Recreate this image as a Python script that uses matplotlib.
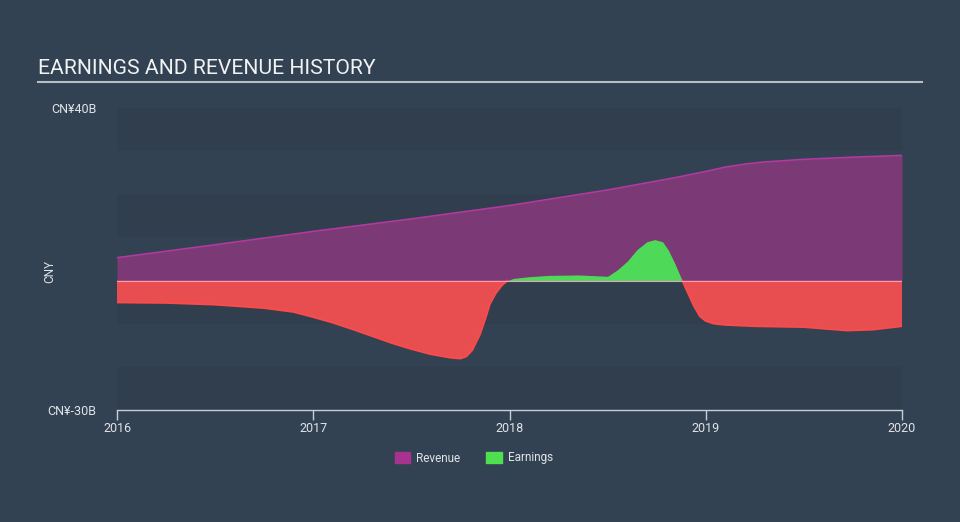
import numpy as np
import matplotlib.pyplot as plt
from matplotlib.patches import Patch

plt.rcParams['font.family'] = ['Roboto', 'DejaVu Sans']

# values in CN¥ billions, time as decimal years
rev_t = [2016.0, 2016.5, 2017.0, 2017.5, 2018.0, 2018.5, 2018.85, 2019.0,
         2019.1, 2019.2, 2019.3, 2019.4, 2019.5, 2019.75, 2020.0]
rev_v = [5.3, 8.3, 11.4, 14.3, 17.4, 21.0, 23.9, 25.3,
         26.3, 27.0, 27.5, 27.8, 28.1, 28.6, 29.0]

earn_t = [2016.0, 2016.25, 2016.5, 2016.75, 2016.9, 2017.0, 2017.1, 2017.2,
          2017.3, 2017.4, 2017.5, 2017.6, 2017.7, 2017.75, 2017.78, 2017.81,
          2017.85, 2017.88, 2017.9, 2017.93, 2017.96, 2017.99, 2018.02, 2018.1,
          2018.2, 2018.35, 2018.5, 2018.55, 2018.6, 2018.65, 2018.7, 2018.74,
          2018.78, 2018.81, 2018.84, 2018.88, 2018.91, 2018.94, 2018.97, 2019.0,
          2019.04, 2019.1, 2019.25, 2019.5, 2019.72, 2019.85, 2020.0]
earn_v = [-5.1, -5.2, -5.6, -6.4, -7.3, -8.5, -9.8, -11.3,
          -12.9, -14.5, -15.9, -17.1, -17.9, -18.1, -17.6, -16.2,
          -12.5, -8.5, -5.5, -3.0, -1.2, 0.0, 0.5, 0.9,
          1.2, 1.3, 1.0, 2.5, 4.5, 7.2, 9.0, 9.5,
          9.0, 7.0, 4.2, 0.0, -3.0, -6.0, -8.3, -9.4,
          -10.0, -10.3, -10.6, -10.8, -11.6, -11.4, -10.6]

years = [2016, 2017, 2018, 2019, 2020]

bg = '#334252'
fig = plt.figure(figsize=(9.6, 5.22), dpi=100, facecolor=bg)
ax = fig.add_axes([117/960, 1 - 410/522, 785/960, 302/522])
ax.set_facecolor(bg)

# horizontal bands
for i, lo in enumerate(range(-30, 40, 10)):
    c = '#303e4d' if i % 2 == 0 else '#334252'
    ax.axhspan(lo, lo + 10, color=c, lw=0, zorder=0)

rt = np.array(rev_t)
rv = np.array(rev_v)
et = np.array(earn_t)
ev = np.array(earn_v)

ax.fill_between(rt, 0, rv, color='#7b3976', lw=0, zorder=1)
ax.plot(rt, rv, color='#b03a9e', lw=1.2, zorder=2)

ax.fill_between(et, 0, ev, where=ev <= 0, interpolate=True, color='#e84e50', lw=0, zorder=3)
ax.fill_between(et, 0, ev, where=ev >= 0, interpolate=True, color='#4fd958', lw=0, zorder=3)
neg = np.where(ev <= 0.05, ev, np.nan)
ax.plot(et, neg, color='#ff4a4a', lw=1.2, zorder=4)

ax.axhline(0, color='#e8a0c8', lw=0.8, zorder=5)

ax.set_xlim(2016, 2020)
ax.set_ylim(-30, 40)
ax.set_xticks(years)
ax.set_xticklabels([str(y) for y in years])
ax.set_yticks([-30, 40])
ax.set_yticklabels(['CN¥-30B', 'CN¥40B'])
ax.tick_params(axis='x', colors='#c8ced6', labelcolor='#e0e4e8', labelsize=9,
               length=7, width=1, pad=2)
ax.tick_params(axis='y', length=0, labelcolor='#e0e4e8', labelsize=9, pad=15)
for s in ['top', 'right', 'left']:
    ax.spines[s].set_visible(False)
ax.spines['bottom'].set_color('#c8ced6')
ax.spines['bottom'].set_linewidth(1)
ax.set_ylabel('CNY', color='#e0e4e8', fontsize=8.5)
ax.yaxis.set_label_coords((56 - 117) / 785, 0.46)

fig.text(38/960, 1 - 69/522, 'EARNINGS AND REVENUE HISTORY', color='#f0f2f4',
         fontsize=15.2, va='center', ha='left')
fig.add_artist(plt.Line2D([38/960, 922/960], [1 - 82/522, 1 - 82/522],
                          color='#b8bec6', lw=1.5))

handles = [Patch(color='#a8338f', label='Revenue'),
           Patch(color='#4fe050', label='Earnings')]
fig.legend(handles=handles, loc='center', bbox_to_anchor=(474/960, 1 - 458/522),
           ncol=2, frameon=False, fontsize=8.5, labelcolor='#e0e4e8',
           handlelength=1.3, handleheight=1.1, columnspacing=2.2, handletextpad=0.5)

fig.savefig('out.png', dpi=100, facecolor=bg)
